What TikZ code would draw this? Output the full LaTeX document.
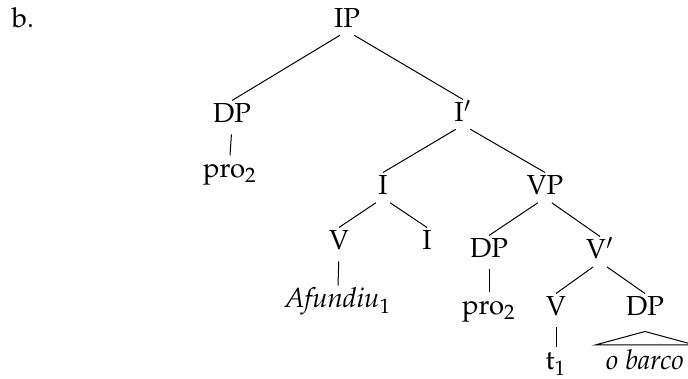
\documentclass[tikz,border=0pt]{standalone}
\usepackage[T1]{fontenc}
\usepackage{mathpazo}
\usepackage{tikz}

\begin{document}
\begin{tikzpicture}[x=0.4pt, y=-0.4pt,
    cat/.style={anchor=base, inner sep=1pt, text height=7.8pt, text depth=0pt,
        font=\fontsize{11}{13}\selectfont},
    branch/.style={shorten <=3.4pt}]
    \useasboundingbox (0,0) rectangle (688,379);
    % Example number
    \node[cat] (num) at (23,28) {b.};
    % Phrase nodes
    \node[cat] (ip) at (347,28) {IP};
    \node[cat] (dp) at (232,123) {DP};
    \node[cat] (pro) at (230,178) {pro$_2$};
    \node[cat] (ibar) at (463,122) {I$'$};
    \node[cat] (i) at (383,195) {I};
    \node[cat] (vp) at (545,195) {VP};
    \node[cat] (v) at (339,250) {V};
    \node[cat] (infl) at (427,250) {I};
    \node[cat] (verb) at (338,308) {\textit{Afundiu}$_1$};
    \node[cat] (dpvp) at (489,258) {DP};
    \node[cat] (vbar) at (600,259) {V$'$};
    \node[cat] (provp) at (489,315) {pro$_2$};
    \node[cat] (vt) at (556,316) {V};
    \node[cat] (dpo) at (645,316) {DP};
    \node[cat] (trace) at (556,370) {t$_1$};
    \node[cat, inner xsep=4.2pt, inner ysep=2pt] (obj) at (645,370) {\textit{o barco}};
    % Branches
    \foreach \p/\c in {ip/dp, ip/ibar, dp/pro, ibar/i, ibar/vp, i/v, i/infl, v/verb,
        vp/dpvp, vp/vbar, dpvp/provp, vbar/vt, vbar/dpo, vt/trace} {
        \draw[branch] (\p.south) -- (\c.north);
    }
    % Triangle over the object
    \draw ([yshift=-5pt]dpo.south) -- (obj.north west) -- (obj.north east) -- cycle;
\end{tikzpicture}
\end{document}
